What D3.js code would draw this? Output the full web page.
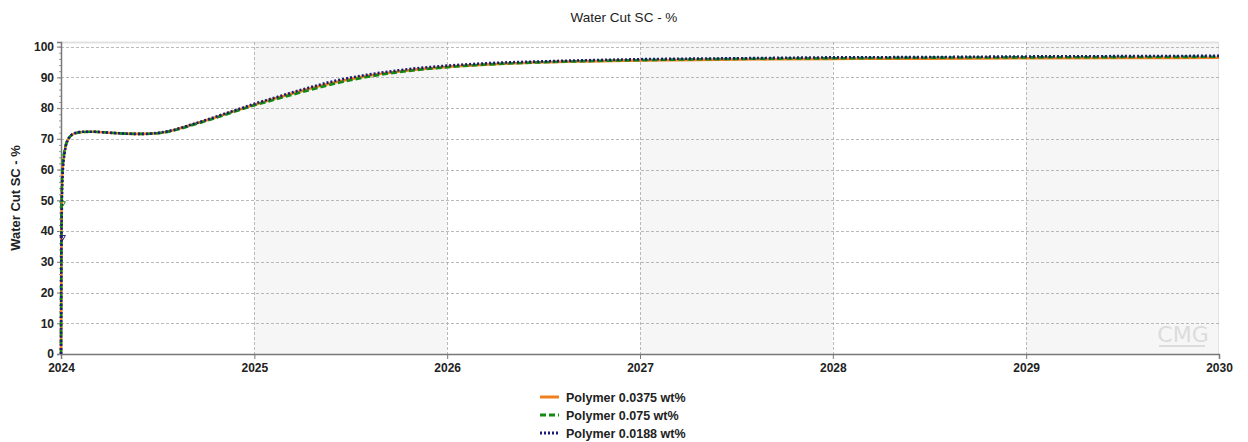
<!DOCTYPE html>
<html>
<head>
<meta charset="utf-8">
<script src="https://cdn.jsdelivr.net/npm/d3@7"></script>
<style>
  body { margin: 0; background: #fff; font-family: "Liberation Sans", Arial, sans-serif; }
  .axis text { font-weight: bold; font-size: 12px; fill: #222; }
  .grid line { stroke: #a8a8a8; stroke-dasharray: 3,2; stroke-width: 0.8; }
  .legend text { font-weight: bold; font-size: 12.5px; fill: #222; }
</style>
</head>
<body>
<svg width="1248" height="442"></svg>
<script>
// Water cut vs time, three polymer concentrations
var dates = ["2024-01-01","2024-01-02","2024-01-04","2024-01-08","2024-01-15","2024-01-25","2024-02-10",
  "2024-03-01","2024-04-01","2024-05-01","2024-06-01","2024-07-01","2024-08-01","2024-09-01","2024-10-01",
  "2024-11-01","2024-12-01","2025-01-01","2025-02-01","2025-04-01","2025-06-01","2025-08-01","2025-10-01",
  "2026-01-01","2026-04-01","2026-07-01","2027-01-01","2027-07-01","2028-01-01","2028-07-01","2029-01-01",
  "2029-07-01","2030-01-01"];

var polymer0375 = [0, 45, 60, 66, 70, 71.6, 72.2, 72.3, 72.0, 71.7, 71.6, 71.8, 72.8, 74.4, 76.0,
  77.7, 79.4, 81.1, 82.7, 85.6, 88.3, 90.4, 91.9, 93.4, 94.3, 94.9, 95.5, 95.8, 96.0, 96.1, 96.2, 96.3, 96.4];
var polymer075 = [0, 49, 61, 66.5, 70, 71.6, 72.2, 72.3, 72.0, 71.7, 71.6, 71.8, 72.7, 74.2, 75.8,
  77.5, 79.2, 80.9, 82.4, 85.2, 87.9, 90.1, 91.7, 93.3, 94.3, 94.9, 95.6, 96.0, 96.2, 96.4, 96.5, 96.6, 96.7];
var polymer0188 = [0, 38, 58, 65.5, 70, 71.7, 72.3, 72.3, 72.0, 71.7, 71.6, 71.9, 72.9, 74.5, 76.1,
  77.9, 79.6, 81.4, 83.0, 86.0, 88.8, 90.8, 92.3, 93.8, 94.7, 95.2, 95.9, 96.2, 96.5, 96.6, 96.8, 96.9, 97.0];

var seriesNames = ["Polymer 0.0375 wt%", "Polymer 0.075 wt%", "Polymer 0.0188 wt%"];
var seriesColors = ["#f07f1c", "#138a13", "#1c1c7a"];
var seriesDash = [null, "6,3", "2,2"];
var yTicks = [0, 10, 20, 30, 40, 50, 60, 70, 80, 90, 100];
var xTicks = ["2024","2025","2026","2027","2028","2029","2030"];

var parse = d3.timeParse("%Y-%m-%d");
var seriesValues = [polymer0375, polymer075, polymer0188];
var series = seriesValues.map(function(vals, i) {
  return {
    name: seriesNames[i], color: seriesColors[i], dash: seriesDash[i],
    points: dates.map(function(d, j) { return { date: parse(d), value: vals[j] }; })
  };
});

var svg = d3.select("svg"),
    margin = {top: 42, right: 29, bottom: 88, left: 61},
    width = +svg.attr("width") - margin.left - margin.right,
    height = +svg.attr("height") - margin.top - margin.bottom;

var yearDates = xTicks.map(function(y) { return new Date(+y, 0, 1); });

var x = d3.scaleTime().domain([yearDates[0], yearDates[yearDates.length - 1]]).range([0, width]);
var y = d3.scaleLinear().domain([0, 101.5]).range([height, 0]);

svg.append("text")
    .attr("x", 624).attr("y", 22)
    .attr("text-anchor", "middle")
    .attr("font-size", "13.5px").attr("fill", "#222")
    .text("Water Cut SC - %");

var g = svg.append("g")
    .attr("transform", "translate(" + margin.left + "," + margin.top + ")");

// alternating year bands
g.selectAll(".band")
    .data(yearDates.slice(0, -1))
  .enter().append("rect")
    .attr("class", "band")
    .attr("x", function(d) { return x(d); })
    .attr("y", 0)
    .attr("width", function(d, i) { return x(yearDates[i + 1]) - x(d); })
    .attr("height", height)
    .attr("fill", function(d, i) { return i % 2 ? "#f6f6f6" : "#ffffff"; });

// top border
g.append("line").attr("x1", 0).attr("x2", width).attr("y1", 0.5).attr("y2", 0.5)
    .attr("stroke", "#e2e2e2").attr("stroke-width", 2);
g.append("line").attr("x1", width - 0.5).attr("x2", width - 0.5).attr("y1", 0).attr("y2", height)
    .attr("stroke", "#e2e2e2");

// grid
g.append("g").attr("class", "grid")
    .selectAll("line").data(yTicks.slice(1))
  .enter().append("line")
    .attr("x1", 0).attr("x2", width)
    .attr("y1", function(d) { return Math.round(y(d)) + 0.5; })
    .attr("y2", function(d) { return Math.round(y(d)) + 0.5; });

g.append("g").attr("class", "grid")
    .selectAll("line").data(yearDates.slice(1, -1))
  .enter().append("line")
    .attr("y1", 0).attr("y2", height)
    .attr("x1", function(d) { return Math.round(x(d)) + 0.5; })
    .attr("x2", function(d) { return Math.round(x(d)) + 0.5; });

// axes
var yAxis = g.append("g").attr("class", "axis")
    .call(d3.axisLeft(y).tickValues(yTicks).tickSize(4).tickPadding(3));
yAxis.select(".domain").attr("stroke", "#777").attr("stroke-width", 1.5);
yAxis.selectAll(".tick line").attr("stroke", "#777");

g.append("g")
    .call(d3.axisLeft(y).tickValues(d3.range(0, 101, 2)).tickSize(2).tickFormat(""))
    .call(function(s) { s.select(".domain").remove(); s.selectAll("line").attr("stroke", "#999"); });

var xAxis = g.append("g").attr("class", "axis")
    .attr("transform", "translate(0," + height + ")")
    .call(d3.axisBottom(x).tickValues(yearDates).tickFormat(d3.timeFormat("%Y")).tickSize(5).tickPadding(4));
xAxis.select(".domain").attr("stroke", "#777").attr("stroke-width", 1.5);
xAxis.selectAll(".tick line").attr("stroke", "#777");

svg.append("text")
    .attr("transform", "translate(20," + (margin.top + height / 2) + ") rotate(-90)")
    .attr("text-anchor", "middle")
    .attr("font-weight", "bold").attr("font-size", "13px").attr("fill", "#222")
    .text("Water Cut SC - %");

// watermark
g.append("text")
    .attr("x", width - 36).attr("y", height - 12)
    .attr("text-anchor", "middle")
    .attr("font-size", "22px").attr("fill", "#dcdcdc")
    .attr("font-family", "DejaVu Sans")
    .text("CMG");
g.append("line")
    .attr("x1", width - 60).attr("x2", width - 14)
    .attr("y1", height - 8).attr("y2", height - 8)
    .attr("stroke", "#dcdcdc").attr("stroke-width", 2);

// lines
var line = d3.line()
    .curve(d3.curveMonotoneX)
    .x(function(d) { return x(d.date); })
    .y(function(d) { return y(d.value); });

g.selectAll(".series")
    .data(series)
  .enter().append("path")
    .attr("class", "series")
    .attr("d", function(d) { return line(d.points); })
    .attr("fill", "none")
    .attr("stroke", function(d) { return d.color; })
    .attr("stroke-width", 2.6)
    .attr("stroke-dasharray", function(d) { return d.dash; });

// small triangle markers on the first step
g.selectAll(".marker")
    .data(series.slice(1))
  .enter().append("path")
    .attr("class", "marker")
    .attr("d", d3.symbol().type(d3.symbolTriangle).size(14))
    .attr("transform", function(d) { return "translate(" + (x(d.points[1].date) + 1) + "," + y(d.points[1].value) + ") rotate(180)"; })
    .attr("fill", "none")
    .attr("stroke", function(d) { return d.color; });

// legend
var legend = svg.append("g").attr("class", "legend")
    .attr("transform", "translate(540,397)");
var item = legend.selectAll("g")
    .data(series)
  .enter().append("g")
    .attr("transform", function(d, i) { return "translate(0," + (i * 18) + ")"; });
item.append("line")
    .attr("x1", 0).attr("x2", 19)
    .attr("stroke", function(d) { return d.color; })
    .attr("stroke-width", 3)
    .attr("stroke-dasharray", function(d) { return d.dash; });
item.append("text")
    .attr("x", 26).attr("y", 4.5)
    .text(function(d) { return d.name; });
</script>
</body>
</html>
